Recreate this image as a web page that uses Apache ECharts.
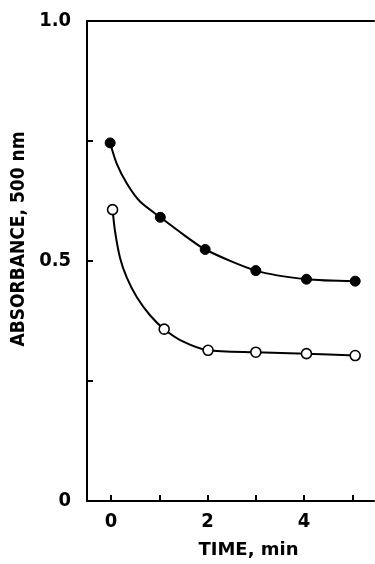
<!DOCTYPE html>
<html>
<head>
<meta charset="utf-8">
<script src="https://cdn.jsdelivr.net/npm/echarts@6/dist/echarts.min.js"></script>
<style>
html,body{margin:0;padding:0;background:#fff;}
#chart{width:375px;height:564px;}
</style>
</head>
<body>
<div id="chart"></div>
<script>
// Data
var xTicks = [0, 1, 2, 3, 4, 5];
var xLabels = [0, 2, 4];
var yTicks = [0.25, 0.5, 0.75, 1.0];
var yLabels = [0, 0.5, 1.0];

// filled circles
var filledX = [-0.02, 1.02, 1.95, 3.00, 4.05, 5.06];
var filledY = [0.746, 0.591, 0.524, 0.480, 0.462, 0.458];
// open circles
var openX = [0.03, 1.10, 2.01, 3.00, 4.05, 5.06];
var openY = [0.607, 0.358, 0.314, 0.310, 0.307, 0.303];

// drawn curves
var filledCurveX = [-0.02, 0.116, 0.323, 0.599, 1.02, 1.50, 1.95, 3.00, 4.05, 5.06];
var filledCurveY = [0.746, 0.703, 0.662, 0.624, 0.591, 0.555, 0.524, 0.480, 0.462, 0.458];
var openCurveX = [0.03, 0.081, 0.184, 0.323, 0.531, 0.806, 1.10, 1.497, 2.01, 3.00, 4.05, 5.06];
var openCurveY = [0.607, 0.562, 0.507, 0.466, 0.425, 0.387, 0.358, 0.332, 0.314, 0.310, 0.307, 0.303];

function zip(a, b) { return a.map(function (v, i) { return [v, b[i]]; }); }

var FONT = '"DejaVu Sans Condensed", "Liberation Sans Narrow", "DejaVu Sans", sans-serif';
var chart = echarts.init(document.getElementById('chart'));
chart.setOption({
  backgroundColor: '#fff',
  animation: false,
  grid: { left: 87, top: 21, width: 287, height: 485 },
  xAxis: [{
    type: 'value', min: -0.5, max: 5.45,
    splitLine: { show: false },
    axisLine: { show: true, onZero: false, lineStyle: { color: '#000', width: 2 } },
    axisTick: { show: true, inside: true, length: 6, customValues: xTicks, lineStyle: { color: '#000', width: 2 } },
    axisLabel: { customValues: xLabels, margin: 11, color: '#000', fontFamily: FONT, fontWeight: 'bold', fontSize: 20 },
    name: 'TIME, min', nameLocation: 'middle', nameGap: 40,
    nameTextStyle: { color: '#000', fontFamily: '"DejaVu Sans", sans-serif', fontWeight: 'bold', fontSize: 18, padding: [0, 0, 0, 36] }
  }, {
    type: 'value', position: 'top', min: -0.5, max: 5.45,
    splitLine: { show: false },
    axisLine: { show: true, onZero: false, lineStyle: { color: '#000', width: 2 } },
    axisTick: { show: false }, axisLabel: { show: false }
  }],
  yAxis: [{
    type: 'value', min: 0, max: 1,
    splitLine: { show: false },
    axisLine: { show: true, onZero: false, lineStyle: { color: '#000', width: 2 } },
    axisTick: { show: true, inside: true, length: 6, customValues: yTicks, lineStyle: { color: '#000', width: 2 } },
    axisLabel: {
      customValues: yLabels, margin: 16, color: '#000', fontFamily: FONT, fontWeight: 'bold', fontSize: 20,
      formatter: function (v) { return v === 0 ? '0' : v.toFixed(1); }
    },
    name: 'ABSORBANCE, 500 nm', nameLocation: 'middle', nameGap: 57,
    nameTextStyle: { color: '#000', fontFamily: FONT, fontWeight: 'bold', fontSize: 19, padding: [0, 0, 0, 44] }
  }],
  series: [
    { type: 'line', data: zip(filledCurveX, filledCurveY), smooth: 0.25, showSymbol: false, symbol: 'none',
      lineStyle: { color: '#000', width: 2 }, z: 2 },
    { type: 'line', data: zip(openCurveX, openCurveY), smooth: 0.25, showSymbol: false, symbol: 'none',
      lineStyle: { color: '#000', width: 2 }, z: 2 },
    { type: 'scatter', data: zip(filledX, filledY), symbol: 'circle', symbolSize: 10,
      itemStyle: { color: '#000', borderColor: '#000', borderWidth: 1, opacity: 1 }, z: 3 },
    { type: 'scatter', data: zip(openX, openY), symbol: 'circle', symbolSize: 10,
      itemStyle: { color: '#fff', borderColor: '#000', borderWidth: 1.6, opacity: 1 }, z: 3 }
  ]
});
</script>
</body>
</html>
